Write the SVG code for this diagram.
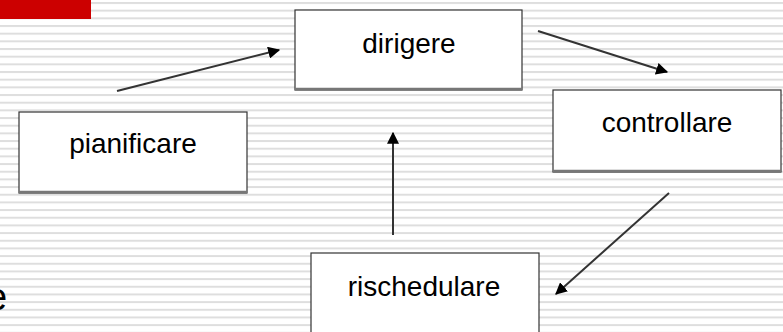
<svg xmlns="http://www.w3.org/2000/svg" width="783" height="332" viewBox="0 0 783 332">
<style>
.box{fill:#fff;stroke:#333;stroke-width:1.2}
.sh{stroke:#777;stroke-width:2.5}
.lbl{font-family:"Liberation Sans",Arial,sans-serif;font-size:28px;fill:#000;text-anchor:middle}
.conn{stroke:#333;stroke-width:2;fill:none;marker-end:url(#ah)}
</style>
<defs>
<pattern id="stripes" x="0" y="2" width="20" height="7.67" patternUnits="userSpaceOnUse">
<rect x="0" y="0" width="20" height="2" fill="#dedede"/>
</pattern>
<marker id="ah" viewBox="0 0 10 10" refX="9" refY="5" markerWidth="6" markerHeight="6" orient="auto" markerUnits="strokeWidth">
<path d="M0,0 L10,5 L0,10 Z" fill="#000"/>
</marker>
</defs>
<rect width="783" height="332" fill="#fff"/>
<rect width="783" height="332" fill="url(#stripes)"/>
<rect x="0" y="0" width="91" height="19" fill="#cc0000"/>
<text x="-14" y="310" font-family="'Liberation Sans',Arial,sans-serif" font-size="38" fill="#000">e</text>
<g id="connectors">
<line class="conn" x1="117" y1="91" x2="279" y2="50"/>
<line class="conn" x1="538" y1="31" x2="667" y2="72"/>
<line class="conn" x1="669" y1="193" x2="556" y2="294"/>
<line class="conn" x1="393" y1="235" x2="393" y2="133"/>
</g>
<g id="dirigere">
<rect class="box" x="295" y="10" width="227" height="80"/>
<line class="sh" x1="295" y1="89" x2="522" y2="89"/>
<text class="lbl" x="409" y="53">dirigere</text>
</g>
<g id="controllare">
<rect class="box" x="553" y="90" width="228" height="82"/>
<line class="sh" x1="553" y1="171" x2="781" y2="171"/>
<text class="lbl" x="667" y="132">controllare</text>
</g>
<g id="pianificare">
<rect class="box" x="19" y="112" width="228" height="81"/>
<line class="sh" x1="19" y1="192" x2="247" y2="192"/>
<text class="lbl" x="133" y="153">pianificare</text>
</g>
<g id="rischedulare">
<rect class="box" x="311" y="253" width="228" height="90"/>
<text class="lbl" x="424" y="296">rischedulare</text>
</g>
</svg>
